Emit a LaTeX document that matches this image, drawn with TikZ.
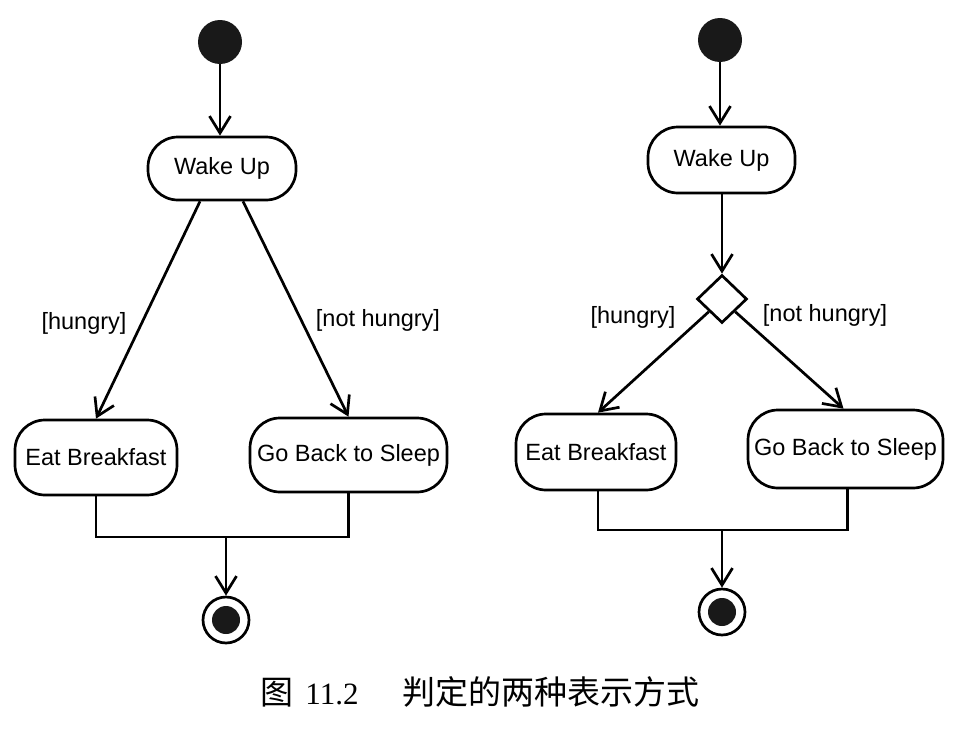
\documentclass[tikz,border=0pt]{standalone}
\usepackage{fontspec}
\setmainfont{Liberation Sans}
\newfontfamily\cjk{Noto Sans CJK SC}
\newfontfamily\capserif{Liberation Serif}
\usepackage{tikz}
\usetikzlibrary{arrows.meta,calc,positioning,shapes.geometric}

\begin{document}
\begin{tikzpicture}[x=1pt,y=-1pt,arrow/.style = {line width=2.7pt,-{Straight Barb[length=17pt,width=21pt]}}]
				\tikzset{act/.style={draw=black,line width=2.7pt,rounded corners=30pt,inner sep=0pt,align=center,font=\fontsize{23.5}{27}\selectfont}}
				\tikzset{guard/.style={font=\fontsize{23.5}{27}\selectfont}}
				\useasboundingbox (0,0) rectangle (977,736);

				% Sin decision

				\node[circle, fill=black!90, minimum size=44pt, inner sep=0pt] (start) at (220,42) {};
				\node[act, minimum width=148pt, minimum height=63pt] (wake) at (222,168.5) {Wake Up};
				\node[act, minimum width=162pt, minimum height=75pt] (eat) at (96,457.5) {Eat Breakfast};
				\node[act, minimum width=197pt, minimum height=74pt] (sleep) at (348.5,455) {Go Back to Sleep};
				\node[circle, draw=black, line width=2.7pt, minimum size=46pt, inner sep=0pt] (finish) at (226,620) {};
				\node[circle, fill=black!90, minimum size=28pt, inner sep=0pt] (finishdot) at (finish) {};
				\coordinate (join) at (226,537);

				\draw [arrow] (start) -- (start |- wake.north);
				\draw [arrow] ($(wake.south)+(-22,0)$) -- (eat.north);
				\draw [arrow] ($(wake.south)+(21,0)$) -- (sleep.north);
				\draw [line width=2.7pt] (eat.south) |- (join) -| (sleep.south);
				\draw [arrow] (join) -- (finish.north);

				\node[guard] (hungry) at (84,323) {[hungry]};
				\node[guard] (nothungry) at (378,320) {[not hungry]};

				% Con decision

				\node[circle, fill=black!90, minimum size=44pt, inner sep=0pt] (startd) at (720,40) {};
				\node[act, minimum width=147pt, minimum height=66pt] (waked) at (721.5,160) {Wake Up};
				\node[diamond, draw=black, line width=2.7pt, minimum width=50pt, minimum height=48pt, inner sep=0pt] (dec) at (722,299) {};
				\node[act, minimum width=160pt, minimum height=76pt] (eatd) at (596,452) {Eat Breakfast};
				\node[act, minimum width=195pt, minimum height=78pt] (sleepd) at (845.5,449) {Go Back to Sleep};
				\node[circle, draw=black, line width=2.7pt, minimum size=46pt, inner sep=0pt] (finishd) at (722,612) {};
				\node[circle, fill=black!90, minimum size=28pt, inner sep=0pt] (finishddot) at (finishd) {};
				\coordinate (joind) at (722,530);

				\draw [arrow] (startd) -- (startd |- waked.north);
				\draw [arrow] (waked.south -| dec.north) -- (dec.north);
				\draw [arrow] (dec.south west) -- ($(eatd.north)+(2,0)$);
				\draw [arrow] (dec.south east) -- ($(sleepd.north)+(-2,0)$);
				\draw [line width=2.7pt] ($(eatd.south)+(2,0)$) |- (joind) -| ($(sleepd.south)+(2,0)$);
				\draw [arrow] (joind) -- (finishd.north);

				\node[guard] (hungryd) at (633,317) {[hungry]};
				\node[guard] (nothungryd) at (825,315) {[not hungry]};

				\node (caption) at (480,692) {\fontsize{33}{38}\selectfont\cjk 图\hspace{12pt}{\capserif\fontsize{31}{36}\selectfont 11.2}\hspace{44pt}判定的两种表示方式};

			\end{tikzpicture}
\end{document}
